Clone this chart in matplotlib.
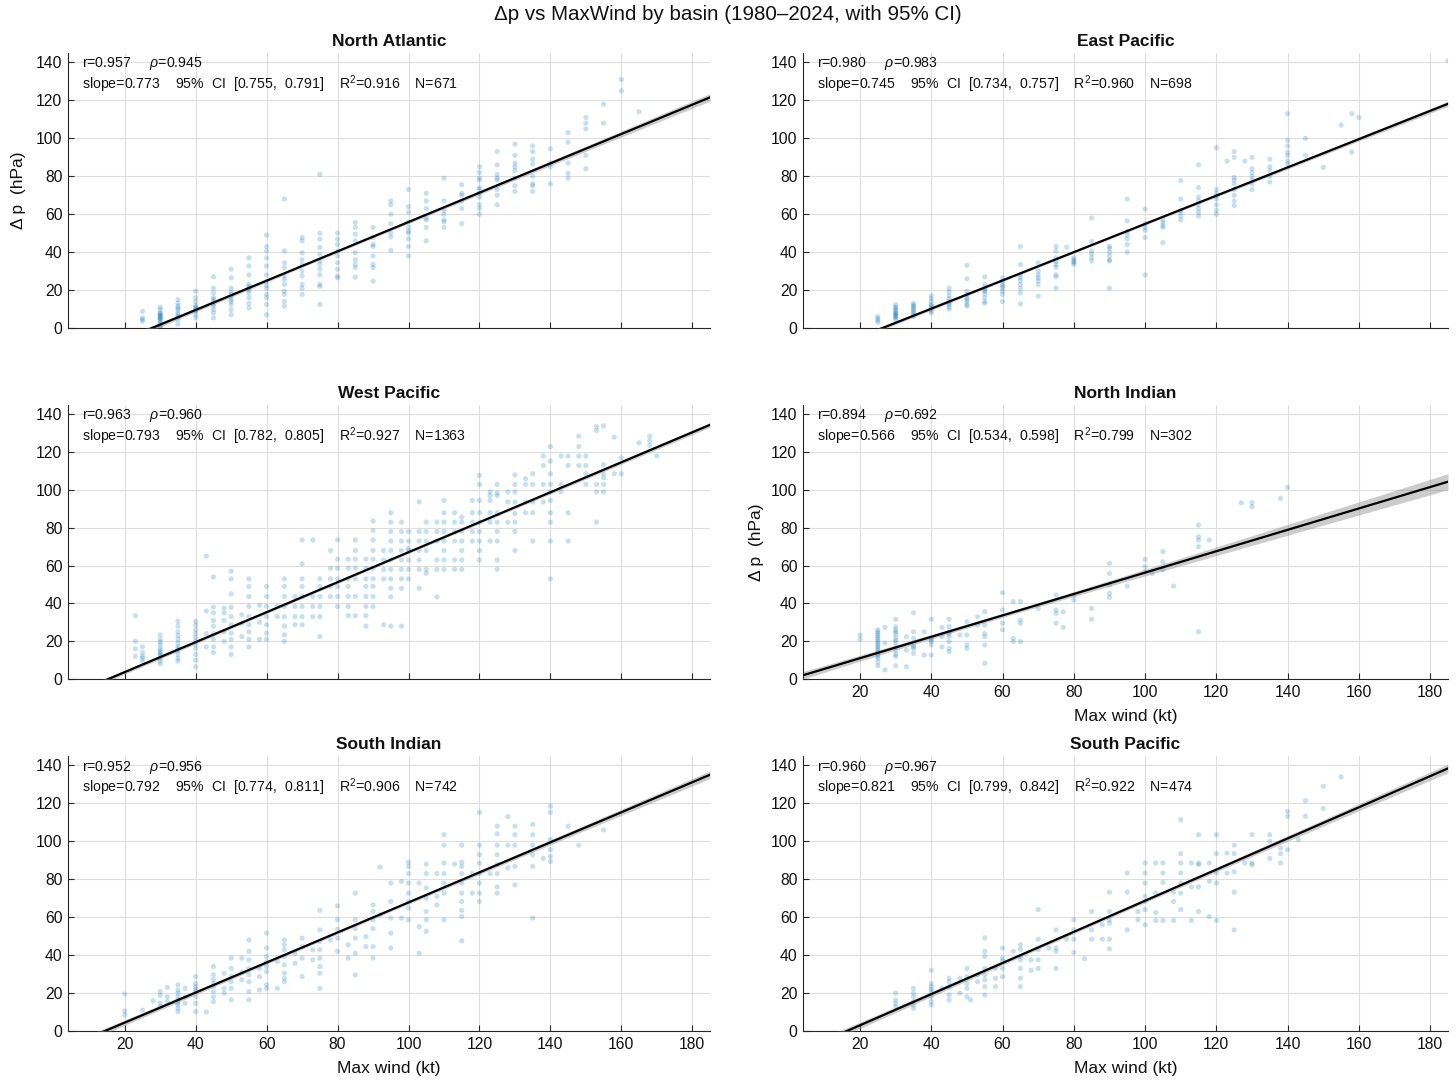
import numpy as np
import matplotlib
matplotlib.use('Agg')
import matplotlib.pyplot as plt

plt.rcParams['font.family'] = ['Liberation Sans', 'DejaVu Sans']
plt.rcParams['mathtext.fontset'] = 'custom'
plt.rcParams['mathtext.rm'] = 'Liberation Sans'
plt.rcParams['mathtext.it'] = 'Liberation Sans:italic'
plt.rcParams['mathtext.bf'] = 'Liberation Sans:bold'

# ---------------- statistics shown in each panel ----------------
BASINS = ['North Atlantic', 'East Pacific', 'West Pacific',
          'North Indian', 'South Indian', 'South Pacific']
R_VAL = [0.957, 0.980, 0.963, 0.894, 0.952, 0.960]
RHO_VAL = [0.945, 0.983, 0.960, 0.692, 0.956, 0.967]
SLOPE = [0.773, 0.745, 0.793, 0.566, 0.792, 0.821]
CI_LO = [0.755, 0.734, 0.782, 0.534, 0.774, 0.799]
CI_HI = [0.791, 0.757, 0.805, 0.598, 0.811, 0.842]
R2_VAL = [0.916, 0.960, 0.927, 0.799, 0.906, 0.922]
N_VAL = [671, 698, 1363, 302, 742, 474]
INTERCEPT = [-21.4, -19.6, -12.2, -0.3, -11.4, -13.4]

# ---------------- scatter data: wind (kt) and the Δp values at that wind ----------------
NA_WIND = [25, 30, 35, 40, 45, 50, 55, 60, 65, 70, 75, 80, 85, 90, 95, 100, 105, 110,
           115, 120, 125, 130, 135, 140, 145, 150, 155, 160, 165]
NA_DP = [[8.8, 5.3, 3.5, 4.5],
         [11, 9.7, 8, 7, 6, 5.3, 4.4, 3.5, 2.6, 1.8, 0.9, 0.2, 6.5, 5, 7.5],
         [15, 13, 11.5, 9.7, 8, 6, 4.4, 2, 10.5, 7],
         [19.4, 16, 14, 12, 10.6, 8.8, 7, 5.3, 9.5, 11],
         [27, 21, 18.5, 16, 13.8, 11.5, 9.7, 8, 5.3, 12.5, 15],
         [31, 26.5, 21, 17.7, 15, 12.4, 9.7, 7, 14, 16.5, 19],
         [37, 32.7, 28, 23, 21, 18.5, 16, 13, 10.6, 20, 22],
         [49, 43, 40.6, 37, 32.7, 28, 24.7, 21, 17.7, 16, 12.4, 7, 22.5],
         [68, 40.6, 34.4, 31.8, 27.4, 25.6, 23, 19.4, 17.7, 14, 11.5],
         [47.7, 46, 39.7, 36, 33.5, 30, 27.4, 23, 21, 17.7],
         [81, 50, 46.8, 42.4, 38.8, 35.3, 33.5, 31, 28, 23, 22, 12.4],
         [50, 46.8, 44, 40.6, 38, 34.4, 31, 27.4, 26.5],
         [55.6, 53, 49.4, 46, 39.7, 36, 33.5, 31.8, 26.8],
         [53, 47.7, 44, 43, 38, 33.5, 31.8, 24.7],
         [67, 65, 60, 55, 50, 48, 41],
         [73, 64, 61, 56, 53, 51, 50, 47, 43, 38],
         [71, 67, 63, 58, 57, 53, 46],
         [79, 67, 62, 60, 57, 56, 53],
         [75.6, 71, 70, 67, 63, 55],
         [85, 82, 79, 78, 74, 73, 71, 69, 65, 63, 60],
         [93, 86, 81, 79, 78, 73, 70, 65],
         [97, 91, 87, 85, 83, 79, 75, 72],
         [96, 93, 89, 86.5, 80, 76, 75, 72],
         [94.5, 87, 85, 76],
         [103, 98, 87, 81.5, 79],
         [111, 108, 105, 91, 84],
         [118, 108],
         [131, 125],
         [114]]

EP_WIND = [25, 30, 35, 40, 45, 50, 55, 60, 65, 70, 75, 78, 80, 85, 90, 95, 100, 105, 110,
           115, 120, 123, 125, 128, 130, 135, 140, 145, 150, 155, 158, 160, 185]
EP_DP = [[6, 4, 3, 5],
         [12.4, 11, 9.7, 8.8, 8, 7, 6, 5.3, 4.4, 10.5, 7.5, 6.5],
         [13, 12, 10.6, 9.7, 8.8, 8, 7, 6, 11.5],
         [17, 15.5, 14, 12.4, 11, 10, 9, 8, 11.7],
         [21, 19, 17, 15.5, 14, 12.4, 11, 10, 13],
         [33, 26, 19.4, 17.7, 16, 14, 12.4, 11.5, 15],
         [27, 23, 21, 19.4, 18, 16, 14, 13, 20],
         [26.5, 24.7, 23, 21, 19.4, 17.7, 14, 22],
         [43, 33.5, 28, 26.5, 25, 23, 21, 18.5, 12.7],
         [34.4, 30, 28, 26.5, 25, 23, 16.8],
         [43, 40.6, 37, 35, 33.5, 32, 28, 27, 21],
         [42.7],
         [37, 36, 35, 33.5, 34.5],
         [58, 45.6, 40.6, 39, 37, 35.3],
         [43, 42, 40, 38, 36, 35.3, 21],
         [68, 56.5, 51, 49, 47, 44, 40],
         [62.7, 55, 53, 51.5, 47.7, 28],
         [57, 55.6, 54, 53, 45],
         [77.7, 68, 62, 61, 59, 57],
         [86, 74, 69, 67, 65, 63, 61, 59],
         [95, 73, 71, 69.6, 68, 65, 62, 60],
         [88],
         [93, 90, 79.4, 78, 76, 73, 70, 67, 64.5],
         [88],
         [90, 84, 82, 80, 78, 76, 73],
         [89, 85, 83, 80, 77],
         [113, 99, 96, 92.7, 91, 88, 86.5],
         [100, 91],
         [84.7],
         [107],
         [113, 92.7],
         [111],
         [141]]

WP_WIND = [23, 25, 30, 35, 40, 43, 45, 48, 50, 53, 55, 58, 60, 63, 65, 68, 70, 73, 75, 78,
           80, 83, 85, 88, 90, 93, 95, 98, 100, 103, 105, 108, 110, 113, 115, 118, 120,
           123, 125, 128, 130, 133, 135, 138, 140, 143, 145, 148, 150, 153, 155, 158,
           160, 165, 168, 170]
WP_DP = [[33.5, 20, 16, 12],
         [17, 14, 12, 9.3, 11],
         [23.4, 21, 19.5, 18, 16, 14, 12.5, 11, 9.5, 8, 15, 13],
         [30.5, 28, 25, 23, 21, 19, 17, 15, 13, 11, 9.5, 16],
         [30.5, 28.5, 26, 24, 22, 20, 18, 16, 13, 10, 6.5],
         [65, 36, 24, 17],
         [54, 38, 35, 31, 28, 24, 21, 17, 14],
         [37.5, 35, 31, 25, 20],
         [57, 53, 45, 38, 33, 28.7, 24.3, 21, 17, 13],
         [34, 29.6, 22.5],
         [53, 49, 43.7, 38.4, 33, 28.7, 25, 21, 17],
         [39, 30, 21],
         [49, 43.7, 38.4, 33, 28.7, 24.3, 21],
         [38.4, 33],
         [53, 49, 43.7, 38.4, 33, 28, 23.4, 20],
         [43.7, 38.4, 33, 28.7],
         [73.6, 61, 53, 49, 43.7, 38.4, 33, 28.7],
         [73.6, 43.7, 38.4, 33],
         [53, 49, 43.7, 38.4, 33, 22.5],
         [68, 58.6, 53, 49, 43.7],
         [73.6, 63.4, 58.6, 53, 49, 43.7, 38.4],
         [63.4, 58.6, 53, 49, 43.7, 38.4, 33.5],
         [73.6, 68, 63.4, 58.6, 53, 43.7, 33.5],
         [63.4, 58.6, 53, 49, 43.7, 38.4, 33.5, 28],
         [83.6, 78.5, 73.6, 68, 63.4, 58.6, 53, 49, 43.7, 38.4],
         [68, 63, 58, 53, 28.7],
         [88, 83, 78, 73, 68, 63, 58, 53, 48, 43.5, 28],
         [83, 78, 73, 68, 63, 58, 53, 48, 28],
         [78, 73, 69, 68, 63, 58, 53],
         [93.7, 78, 73, 68, 63, 58, 48],
         [83, 78, 73, 68, 58, 56],
         [83, 78, 73, 63, 58, 43.5],
         [94.5, 88, 83, 78, 73, 68, 63, 58],
         [88, 83, 78, 73, 63, 58],
         [85.7, 83, 78, 73, 68, 63, 58],
         [94.5, 88, 83, 78, 73],
         [107.7, 103, 94.5, 88, 83, 78, 73, 68, 63],
         [99, 97, 94.5, 88, 83, 73],
         [103, 98.5, 97, 88, 83, 78, 73, 63, 58],
         [99, 93.7, 83],
         [108, 103, 99, 93.7, 87.5, 83, 78, 68],
         [106, 103, 93.7, 88],
         [108.6, 103, 93.7, 88, 73],
         [118, 113, 103, 93.7],
         [123, 115.3, 108.6, 103, 99, 94.5, 88, 83, 73, 53],
         [118, 103, 99],
         [118, 113, 88, 73],
         [128.5, 123, 118, 113],
         [118, 113, 108.6, 103],
         [133.6, 131.5, 103, 99, 83],
         [134, 113.4, 108.6, 106.5, 103, 99],
         [128, 108.6],
         [117, 108.6],
         [125],
         [128.5, 126, 123.6],
         [118]]

NI_WIND = [20, 25, 27, 30, 33, 35, 38, 40, 43, 45, 48, 50, 53, 55, 60, 63, 65, 70, 75, 77,
           80, 85, 90, 95, 100, 102, 105, 108, 115, 118, 127, 130, 138, 140]
NI_DP = [[23.3, 21],
         [26, 25, 23, 21, 19, 17, 15, 13, 11, 9, 7, 24, 22, 20, 18, 16, 14, 12],
         [27.3, 19, 4.8],
         [31.6, 27.7, 26, 24, 22, 19.4, 17, 15, 13, 12, 7, 25, 20.5],
         [22.4, 15.3, 6.5],
         [35, 25, 21.5, 18, 16.2, 13.6, 17],
         [25, 12.7],
         [31.6, 21.5, 19.8, 18, 12.7, 20.5],
         [27.3, 22.4, 17],
         [31.6, 27.7, 25, 22.4, 19.8, 16.2, 14.5, 24],
         [23.3],
         [30.3, 23.3, 18, 16.2],
         [33, 28.6],
         [35.6, 28.6, 24, 22.4, 18, 8.3],
         [45.7, 36.5, 29.5, 26],
         [41, 21.5, 19.8],
         [41, 31.2, 29.5, 19.8],
         [37.4],
         [44.4, 36.5, 34.7, 29.5],
         [35.6, 27.3],
         [44.4, 41.8],
         [37.4, 31.6],
         [61.2, 55.9, 49.7, 45.3, 43.2],
         [49.2],
         [63.3, 59.4, 56.8],
         [55.9],
         [67.4, 62, 57.7],
         [49.2],
         [81.5, 75.3, 73.5, 70, 25],
         [73.5],
         [93.3],
         [93.3, 91.2],
         [95.6],
         [101.4]]

SI_WIND = [20, 25, 28, 30, 32, 35, 37, 40, 43, 45, 48, 50, 53, 55, 58, 60, 63, 65, 68, 70,
           73, 75, 78, 80, 83, 85, 88, 90, 92, 95, 98, 100, 103, 105, 108, 110, 113, 115,
           118, 120, 123, 125, 128, 130, 135, 138, 140, 145, 148, 155]
SI_DP = [[19.5, 10.6, 8.5],
         [11],
         [16],
         [20.8, 18.7, 14.6, 12.9],
         [23, 18, 15.5],
         [24.3, 21.6, 18, 16.4, 13.7, 12, 10.2, 20, 15],
         [22.5, 18, 14.6],
         [28.7, 25, 23.4, 20.8, 18, 14.6, 10.2, 22],
         [10],
         [34, 29.6, 27, 23.4, 20.8, 18, 15.5, 25],
         [30.5, 22.5, 20],
         [38.4, 33, 28.7, 26, 22.5, 16.4],
         [38.4, 31, 27],
         [48, 42, 37.5, 33, 29.6, 26, 20.8, 16.4],
         [33, 28.7, 21.6],
         [51.6, 43.7, 39.3, 36.6, 34, 31.3, 24.3, 22.5],
         [36.6, 22.5],
         [48, 45.4, 42.8, 39.3, 34.9, 30.5, 27.8, 26],
         [41, 35.7],
         [49, 44.5, 38.4, 28.7],
         [42.8, 37.5],
         [63.6, 53.3, 47.2, 42.8, 38.4, 34, 30.5, 22.5],
         [48],
         [66, 58.6, 53.7, 49, 42],
         [45.4, 38.4],
         [72.7, 58.6, 54, 49, 41, 29.6],
         [49.8, 44.5],
         [66.5, 63, 58.6, 54, 44.5, 38.4],
         [86.4, 61.3],
         [78, 68.3, 59.5, 51.6, 43.7],
         [78.9, 59.5],
         [89, 86.8, 83, 78, 72.7, 68.3, 64.8, 58.6],
         [78, 55, 41],
         [88, 83, 75.4, 70, 63, 58.6, 52.5],
         [83, 71, 66.5],
         [103.5, 98, 88.6, 83, 78, 72.7, 58.6],
         [88],
         [98, 89, 86.8, 83, 78, 72.7, 68.3, 63.6, 60.4, 47.5],
         [83, 72.7],
         [115.3, 98, 93, 88.5, 83, 78, 72.7, 68.3],
         [83],
         [108, 104, 98, 93, 88, 83, 76, 72.7],
         [113, 98, 86],
         [108, 103.5, 98, 86.8, 77],
         [109, 103.5, 98, 93, 86.8, 59.5],
         [91],
         [118.5, 115.3, 101, 95.6, 92, 89.4],
         [108],
         [98],
         [106]]

SP_WIND = [30, 35, 40, 43, 45, 48, 50, 51, 53, 55, 58, 60, 63, 65, 68, 70, 73, 75, 78, 80,
           83, 85, 88, 90, 95, 98, 100, 103, 105, 108, 110, 113, 115, 118, 120, 123, 125,
           128, 130, 135, 138, 140, 143, 145, 150, 155]
SP_DP = [[20, 16.4, 14.6, 12.9],
         [22.5, 20, 18, 15.5, 13.7, 12],
         [32, 25, 23.4, 20.8, 18, 15.5, 13.7, 22],
         [22.5],
         [27.8, 26, 23.4, 19, 16.4],
         [27.8, 20],
         [33, 28.7, 25, 22.5, 18],
         [16.4],
         [29.6, 26],
         [49, 42, 39.3, 33, 29.6, 27, 23.4, 19],
         [33, 27.8, 23.4],
         [43.7, 38.4, 33, 28.7, 37],
         [42],
         [45.4, 43, 39.3, 37.5, 33, 27.8, 23.4],
         [37.5, 32],
         [64, 48.4, 42.8, 37.5, 33],
         [43.7],
         [53.3, 43.7, 42, 33],
         [48.4],
         [58.6, 53.3, 48.4, 41.4],
         [38.2],
         [63, 53.3, 48.4],
         [56, 48.4],
         [73.2, 63, 58.6, 56.9, 48.4, 43.3],
         [83.3, 73.2, 53.3],
         [63, 58.6],
         [88.6, 83.3, 78, 71, 68.3, 64, 56],
         [88.6, 72.7, 62.5, 58.3],
         [88.6, 83.3, 78.3, 58.3],
         [73.2, 68.3, 58.3],
         [111.4, 93.5, 88.6, 83.3, 78, 72.7, 64],
         [88.6, 76, 58.3],
         [103.5, 88.6, 87.7, 76, 63],
         [88.6, 78.9, 60.4],
         [103.5, 93.5, 83.3, 78, 58.3],
         [93.8, 83.3],
         [98, 93.5, 84, 73.2, 53.3],
         [88.6],
         [103.5, 88.6, 87.7],
         [103.5, 100, 91],
         [96.5, 93.5, 88.6],
         [115.8, 113.2, 95.6],
         [100.9],
         [121.5, 113.2],
         [129, 117.3],
         [134]]

WINDS = [NA_WIND, EP_WIND, WP_WIND, NI_WIND, SI_WIND, SP_WIND]
DPS = [NA_DP, EP_DP, WP_DP, NI_DP, SI_DP, SP_DP]

# ---------------- figure ----------------
W, H = 1456, 1083
fig = plt.figure(figsize=(W / 100, H / 100), dpi=100)
fig.text(0.5, 1 - 15 / H, 'Δp vs MaxWind by basin (1980–2024, with 95% CI)',
         ha='center', va='center', fontsize=14.8, color='#111111')

col_x = [68, 803]
col_w = [642, 645]
row_top = [53, 405, 756]
row_bot = [328, 679, 1031]

AX_COLOR = '#262626'
PT_COLOR = '#0072BD'
XLIM = (4, 185)
YLIM = (0, 145)

for i, name in enumerate(BASINS):
    r, c = divmod(i, 2)
    x0 = col_x[c] / W
    w = col_w[c] / W
    y0 = 1 - row_bot[r] / H
    hpx = row_bot[r] - row_top[r]
    h = hpx / H
    ax = fig.add_axes([x0, y0, w, h])

    wind = np.concatenate([np.full(len(v), k, dtype=float) for k, v in zip(WINDS[i], DPS[i])])
    dp = np.concatenate([np.asarray(v, dtype=float) for v in DPS[i]])

    ax.scatter(wind, dp, s=14, color=PT_COLOR, alpha=0.22, edgecolors='none', zorder=2)

    # regression line with 95% confidence band
    b = SLOPE[i]
    a = INTERCEPT[i]
    xg = np.linspace(XLIM[0], XLIM[1], 300)
    yg = a + b * xg
    resid = dp - (a + b * wind)
    s = np.sqrt(np.sum(resid ** 2) / (len(dp) - 2))
    se_b = (CI_HI[i] - CI_LO[i]) / (2 * 1.96)
    half = 1.96 * np.sqrt(s ** 2 / N_VAL[i] + (xg - wind.mean()) ** 2 * se_b ** 2)
    ax.fill_between(xg, yg - half, yg + half, color='0.5', alpha=0.4, lw=0, zorder=3)
    ax.plot(xg, yg, color='black', lw=1.6, zorder=4)

    ax.set_xlim(*XLIM)
    ax.set_ylim(*YLIM)
    ax.set_xticks(np.arange(20, 181, 20))
    ax.set_yticks(np.arange(0, 141, 20))
    ax.grid(True, color='#dedede', lw=0.8, zorder=0)
    ax.set_axisbelow(True)
    for sp in ['top', 'right']:
        ax.spines[sp].set_visible(False)
    for sp in ['left', 'bottom']:
        ax.spines[sp].set_color(AX_COLOR)
        ax.spines[sp].set_linewidth(0.8)
    ax.tick_params(direction='in', length=4, width=0.8, colors=AX_COLOR,
                   labelsize=11.3, pad=4)
    for lab in ax.get_xticklabels() + ax.get_yticklabels():
        lab.set_color('#111111')

    show_x = name in ('North Indian', 'South Indian', 'South Pacific')
    if not show_x:
        ax.tick_params(labelbottom=False)
    else:
        ax.set_xlabel('Max wind (kt)', fontsize=12.5, color='#111111')
        ax.xaxis.set_label_coords(0.5, -38 / hpx)
        ax.xaxis.label.set_va('center')
    if name in ('North Atlantic', 'North Indian'):
        ax.set_ylabel('Δ p  (hPa)', fontsize=12.5, color='#111111')
        lx = (19 - 68) / 642 if c == 0 else (757 - 803) / 645
        ax.yaxis.set_label_coords(lx, 0.5)
        ax.yaxis.label.set_va('center')

    ax.set_title(name, fontsize=12.5, fontweight='bold', color='#111111', pad=5)

    ax.text(14 / col_w[c], 1 - 11 / hpx,
            f'r={R_VAL[i]:.3f}     $\\rho$={RHO_VAL[i]:.3f}',
            transform=ax.transAxes, ha='left', va='center', fontsize=10.2, color='#111111')
    ax.text(14 / col_w[c], 1 - 31 / hpx,
            f'slope={SLOPE[i]:.3f}    95%  CI  [{CI_LO[i]:.3f},  {CI_HI[i]:.3f}]    '
            f'$\\mathrm{{R}}^2$={R2_VAL[i]:.3f}    N={N_VAL[i]}',
            transform=ax.transAxes, ha='left', va='center', fontsize=10.2, color='#111111')

fig.savefig('out.png', dpi=100)
